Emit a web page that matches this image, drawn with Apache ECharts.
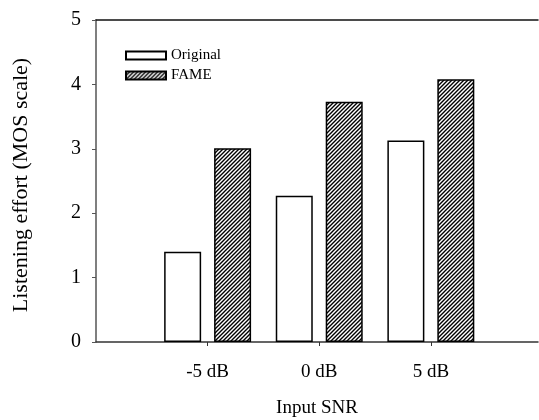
<!DOCTYPE html>
<html>
<head>
<meta charset="utf-8">
<script src="https://cdn.jsdelivr.net/npm/echarts@6/dist/echarts.min.js"></script>
<style>
  html, body { margin: 0; padding: 0; background: #fff; }
  #main { width: 539px; height: 420px; }
</style>
</head>
<body>
<div id="main"></div>
<script>
// data
var snr = [-5, 0, 5];
var snrLabels = ['-5 dB', '0 dB', '5 dB'];
var original = [1.40, 2.27, 3.13];
var fame = [3.01, 3.73, 4.08];
var yTicks = [0, 1, 2, 3, 4, 5];

// diagonal hatch for FAME bars
function hatch() {
  var c = document.createElement('canvas');
  c.width = 4; c.height = 4;
  var g = c.getContext('2d');
  g.fillStyle = '#fff';
  g.fillRect(0, 0, 4, 4);
  g.strokeStyle = '#000';
  g.lineWidth = 1.4;
  g.beginPath();
  g.moveTo(-1, 5); g.lineTo(5, -1);
  g.moveTo(-1, 1); g.lineTo(1, -1);
  g.moveTo(3, 5); g.lineTo(5, 3);
  g.stroke();
  return { image: c, repeat: 'repeat' };
}

var font = 'Liberation Serif';
var myChart = echarts.init(document.getElementById('main'));

var option = {
  animation: false,
  backgroundColor: '#fff',
  textStyle: { fontFamily: font, color: '#000' },
  grid: { left: 96, right: 1, top: 20, bottom: 78, outerBoundsMode: 'none' },
  legend: {
    orient: 'vertical',
    left: 120,
    top: 43,
    icon: 'rect',
    itemWidth: 40,
    itemHeight: 8,
    itemGap: 5,
    textStyle: { fontFamily: font, fontSize: 15, color: '#000' },
    data: ['Original', 'FAME']
  },
  xAxis: [
    {
      type: 'value',
      min: -10,
      max: 9.8,
      interval: 5,
      name: 'Input SNR',
      nameLocation: 'middle',
      nameGap: 57,
      nameTextStyle: { fontFamily: font, fontSize: 19, color: '#000' },
      splitLine: { show: false },
      axisLine: { show: true, onZero: false, lineStyle: { color: '#333', width: 1.5 } },
      axisTick: { show: true, length: 4, customValues: snr, lineStyle: { color: '#333' } },
      axisLabel: {
        customValues: snr,
        margin: 21,
        fontFamily: font,
        fontSize: 19,
        color: '#000',
        formatter: function (v) {
          var i = snr.indexOf(v);
          return i >= 0 ? snrLabels[i] : '';
        }
      }
    },
    {
      type: 'value',
      position: 'top',
      min: -10,
      max: 9.8,
      splitLine: { show: false },
      axisLine: { show: true, onZero: false, lineStyle: { color: '#111', width: 1.5 } },
      axisTick: { show: false },
      axisLabel: { show: false }
    }
  ],
  yAxis: {
    type: 'value',
    min: yTicks[0],
    max: yTicks[yTicks.length - 1],
    interval: 1,
    name: 'Listening effort (MOS scale)',
    nameLocation: 'middle',
    nameGap: 64,
    nameTextStyle: { fontFamily: font, fontSize: 22, color: '#000', padding: [0, 8, 0, 0] },
    splitLine: { show: false },
    axisLine: { show: true, onZero: false, lineStyle: { color: '#555', width: 1.5 } },
    axisTick: { show: true, length: 4, lineStyle: { color: '#555' } },
    axisLabel: { margin: 15, fontFamily: font, fontSize: 20, color: '#000' }
  },
  series: [
    {
      name: 'Original',
      type: 'bar',
      barWidth: 37,
      barGap: '35%',
      data: snr.map(function (x, i) { return [x, original[i]]; }),
      itemStyle: { color: '#fff', borderColor: '#000', borderWidth: 1.5 }
    },
    {
      name: 'FAME',
      type: 'bar',
      barWidth: 37,
      barGap: '35%',
      data: snr.map(function (x, i) { return [x, fame[i]]; }),
      itemStyle: { color: hatch(), borderColor: '#000', borderWidth: 1.5 }
    }
  ]
};
myChart.setOption(option);
</script>
</body>
</html>
